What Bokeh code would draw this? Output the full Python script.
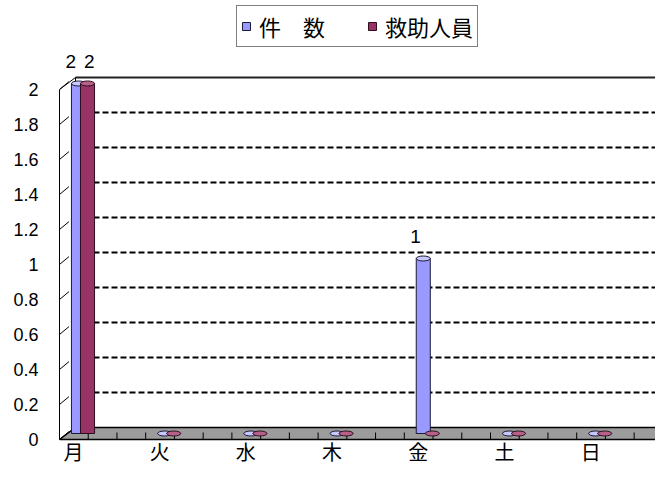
from bokeh.plotting import figure
from bokeh.models import FixedTicker, Legend, LegendItem, Range1d
from bokeh.core.properties import value
from bokeh.embed import file_html
from bokeh.resources import INLINE

# ---- data ----
days = ["月", "火", "水", "木", "金", "土", "日"]
cases = [2, 0, 0, 0, 1, 0, 0]        # 件数
rescued = [2, 0, 0, 0, 0, 0, 0]      # 救助人員
series_names = ["件　数", "救助人員"]
y_ticks = [0, 0.2, 0.4, 0.6, 0.8, 1.0, 1.2, 1.4, 1.6, 1.8, 2.0]
y_tick_labels = ["0", "0.2", "0.4", "0.6", "0.8", "1", "1.2", "1.4", "1.6", "1.8", "2"]

# ---- geometry ----
W, H = 655, 468
LEFT = 59
FLOOR_PX = 439          # canvas y of front zero line
PX_X = 86.2             # px per category
PX_Y = 175.0            # px per unit
DX = 16 / PX_X          # 3D depth offset
DY = 12 / PX_Y
BAR_DY = 6 / PX_Y
n = len(days)
ymax = y_ticks[-1]

BLUE, BLUE_TOP = "#9999ff", "#c8c8ff"
RED, RED_TOP = "#993366", "#b8608a"
CJK = "Noto Sans CJK JP"
LAT = "Liberation Sans"

p = figure(width=W, height=H, output_backend="svg", toolbar_location=None,
           x_range=Range1d(0, (W - LEFT) / PX_X),
           y_range=Range1d(-(H - FLOOR_PX) / PX_Y, FLOOR_PX / PX_Y),
           x_axis_location=None, min_border_left=LEFT, min_border_right=0,
           min_border_top=0, min_border_bottom=0)
p.outline_line_color = None
p.grid.visible = False
p.background_fill_color = "white"

# ---- back wall ----
grid_y = [t + DY for t in y_ticks[1:-1]]
p.segment(x0=[DX] * len(grid_y), y0=grid_y, x1=[n + 1] * len(grid_y), y1=grid_y,
          line_color="black", line_width=1.8, line_dash="6 3")
p.segment(x0=[DX], y0=[ymax + DY], x1=[n + 1], y1=[ymax + DY],
          line_color="#222222", line_width=2)
p.segment(x0=[DX], y0=[DY], x1=[DX], y1=[ymax + DY], line_color="black", line_width=1)

# ---- side wall ----
p.patch(x=[0, 0, DX, DX], y=[0, ymax, ymax + DY, DY], fill_color="white",
        line_color="black", line_width=1)
p.segment(x0=[0] * len(y_ticks), y0=y_ticks, x1=[0.11] * len(y_ticks),
          y1=[t + 0.045 for t in y_ticks], line_color="black", line_width=1)

# ---- floor ----
p.patch(x=[0, n, n + DX, DX], y=[0, 0, DY, DY], fill_color="#9c9c9c",
        line_color="black", line_width=1.5)
fx = [k / 3 for k in range(1, 3 * n)]
p.segment(x0=fx, y0=[0] * len(fx), x1=fx, y1=[0.04] * len(fx),
          line_color="black", line_width=1)

# ---- bars (cylinders) ----
bx = [i + 0.22 for i in range(n)]
rx = [i + 0.325 for i in range(n)]
BW = 0.163

blue_bar = p.vbar(x=bx, top=[v + BAR_DY for v in cases], bottom=BAR_DY, width=BW,
                  fill_color=BLUE, line_color="#1a1a33", line_width=1)
p.ellipse(x=bx, y=[v + BAR_DY for v in cases], width=14, height=5,
          width_units="screen", height_units="screen",
          fill_color=BLUE_TOP, line_color="#1a1a33", line_width=1)
red_bar = p.vbar(x=rx, top=[v + BAR_DY for v in rescued], bottom=BAR_DY, width=BW,
                 fill_color=RED, line_color="#2a0f1c", line_width=1)
p.ellipse(x=rx, y=[v + BAR_DY for v in rescued], width=14, height=5,
          width_units="screen", height_units="screen",
          fill_color=RED_TOP, line_color="#2a0f1c", line_width=1)

# ---- value labels ----
lab_x, lab_y, lab_t = [], [], []
for x, v in zip(bx, cases):
    if v:
        lab_x.append(x - 0.09); lab_y.append(v + 0.16); lab_t.append(str(v))
for x, v in zip(rx, rescued):
    if v:
        lab_x.append(x + 0.02); lab_y.append(v + 0.16); lab_t.append(str(v))
p.text(x=lab_x, y=lab_y, text=lab_t, text_font=value(LAT), text_font_size="19px",
       text_align="center", text_baseline="middle", text_color="black")

# ---- category labels ----
p.text(x=[i + 0.162 for i in range(n)], y=[-(451 - FLOOR_PX) / PX_Y] * n, text=days,
       text_font=value(CJK), text_font_size="20px", text_align="center",
       text_baseline="middle", text_color="black")

# ---- y axis ----
ax = p.yaxis[0]
ax.ticker = FixedTicker(ticks=y_ticks)
ax.major_label_overrides = dict(zip(y_ticks, y_tick_labels))
ax.bounds = (y_ticks[0], y_ticks[-1])
ax.axis_line_color = "black"
ax.major_tick_in = 0
ax.major_tick_out = 0
ax.minor_tick_line_color = None
ax.major_label_standoff = 21
ax.major_label_text_font = LAT
ax.major_label_text_font_size = "18px"
ax.major_label_text_color = "black"

# ---- legend ----
legend = Legend(items=[LegendItem(label=series_names[0], renderers=[blue_bar]),
                       LegendItem(label=series_names[1], renderers=[red_bar])],
                orientation="horizontal", location="top_center",
                border_line_color="black", border_line_width=1,
                background_fill_color="white", background_fill_alpha=1,
                padding=4, margin=5, spacing=20, label_standoff=8,
                label_width=88,
                glyph_width=10, glyph_height=10,
                label_text_font=CJK, label_text_font_size="22px",
                label_text_color="black")
p.add_layout(legend)

open("out.html", "w").write(file_html(p, INLINE))
